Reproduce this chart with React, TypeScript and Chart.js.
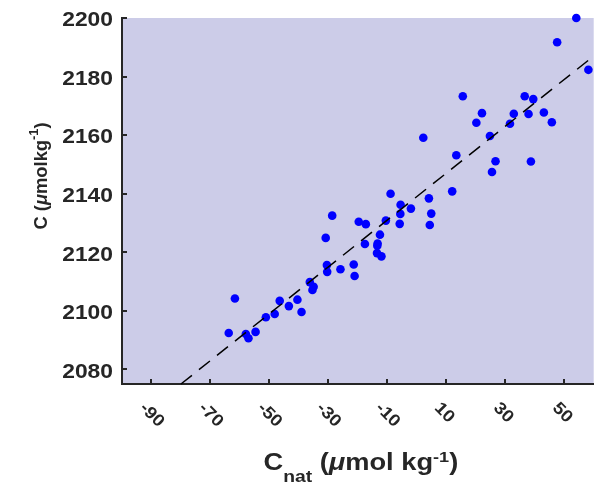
import React, { useEffect, useRef } from "react";
import { Chart, registerables } from "chart.js";

Chart.register(...registerables);

// ---- data ----
const cNat = [
  54.1, 47.6, 58.2, 15.6, 36.6, 39.5, 22.1, 32.9, 37.9, 43.1,
  20.2, 31.6, 45.8, 24.8, 2.2, 13.4, 26.7, 38.7, 25.5, -8.9,
  4.1, 12.0, -5.5, -2.0, -5.6, 4.9, -5.8, 4.4, -28.7, -19.7,
  -17.3, -10.5, -12.5, -30.9, -17.6, -13.3, -13.4, -13.5, -12.0, -30.5,
  -30.4, -25.9, -21.4, -21.1, -36.3, -35.0, -35.4, -46.5, -40.5, -61.7,
  -63.8, -58.0, -57.1, -54.7, -51.2, -48.2, -43.4, -39.1,
];
const cObs = [
  2200.0, 2191.7, 2182.3, 2173.3, 2173.3, 2172.3, 2167.5, 2167.3, 2167.2, 2167.7,
  2164.2, 2163.9, 2164.4, 2159.7, 2159.1, 2153.1, 2151.1, 2151.0, 2147.4, 2140.0,
  2138.4, 2140.8, 2136.2, 2134.9, 2133.1, 2133.2, 2129.7, 2129.3, 2132.5, 2130.4,
  2129.6, 2130.8, 2126.0, 2124.9, 2122.8, 2123.0, 2122.2, 2119.7, 2118.6, 2115.6,
  2113.3, 2114.2, 2115.8, 2111.9, 2109.8, 2108.2, 2107.1, 2103.4, 2103.8, 2104.2,
  2092.4, 2092.1, 2090.6, 2092.8, 2097.8, 2098.9, 2101.6, 2099.6,
];
const fitX = [-80, 60];
const fitY = [2075, 2187];
const xTickValues = [-90, -70, -50, -30, -10, 10, 30, 50];
const yTickValues = [2080, 2100, 2120, 2140, 2160, 2180, 2200];
const xRange = [-100, 60];
const yRange = [2075, 2200];

// ---- text helpers ----
const FAMILY = '"Liberation Sans", Arial, Helvetica, sans-serif';
const INK = "#262626";

type Run = { t: string; size: number; dy?: number; italic?: boolean };

function fontOf(r: Run) {
  return `${r.italic ? "italic " : ""}bold ${r.size}px ${FAMILY}`;
}

function drawRuns(
  ctx: CanvasRenderingContext2D,
  runs: Run[],
  x: number,
  y: number,
  angle: number,
  align: "left" | "center" | "right",
  stretch: number
) {
  const widths = runs.map((r) => {
    ctx.font = fontOf(r);
    return ctx.measureText(r.t).width * stretch;
  });
  const total = widths.reduce((a, b) => a + b, 0);
  let cx = align === "left" ? 0 : align === "center" ? -total / 2 : -total;
  ctx.save();
  ctx.translate(x, y);
  ctx.rotate(angle);
  ctx.textAlign = "left";
  ctx.textBaseline = "alphabetic";
  ctx.fillStyle = INK;
  runs.forEach((r, i) => {
    ctx.font = fontOf(r);
    ctx.save();
    ctx.translate(cx, r.dy || 0);
    ctx.scale(stretch, 1);
    ctx.fillText(r.t, 0, 0);
    ctx.restore();
    cx += widths[i];
  });
  ctx.restore();
}

const xTitleRuns: Run[] = [
  { t: "C", size: 23.3 },
  { t: "nat", size: 16.5, dy: 11.5 },
  { t: " (", size: 23.3 },
  { t: "\u03BC", size: 23.3, italic: true },
  { t: "mol kg", size: 23.3 },
  { t: "-1", size: 15.5, dy: -8.5 },
  { t: ")", size: 23.3 },
];
const yTitleRuns: Run[] = [
  { t: "C (", size: 18 },
  { t: "\u03BC", size: 18, italic: true },
  { t: "molkg", size: 18 },
  { t: "-1", size: 12.5, dy: -9.5 },
  { t: ")", size: 18 },
];

const decorPlugin = {
  id: "decor",
  beforeDraw(chart: any) {
    const { ctx, chartArea: a } = chart;
    ctx.save();
    ctx.fillStyle = "rgb(204,204,232)";
    ctx.fillRect(a.left, a.top, a.right - a.left, a.bottom - a.top);
    ctx.restore();
  },
  beforeDatasetsDraw(chart: any) {
    const { ctx, chartArea: a, scales } = chart;
    ctx.save();
    ctx.strokeStyle = INK;
    ctx.lineWidth = 2;
    ctx.beginPath();
    xTickValues.forEach((v) => {
      const px = Math.round(scales.x.getPixelForValue(v));
      ctx.moveTo(px, a.bottom);
      ctx.lineTo(px, a.bottom - 5);
    });
    yTickValues.forEach((v) => {
      const py = Math.round(scales.y.getPixelForValue(v));
      ctx.moveTo(a.left, py);
      ctx.lineTo(a.left + 5, py);
    });
    ctx.stroke();
    ctx.restore();
  },
  afterDraw(chart: any) {
    const { ctx, chartArea: a, scales } = chart;
    // y tick labels
    yTickValues.forEach((v) => {
      const py = scales.y.getPixelForValue(v);
      drawRuns(ctx, [{ t: String(v), size: 19.5 }], a.left - 9, py + 8.3, 0, "right", 1.17);
    });
    // x tick labels, rotated
    xTickValues.forEach((v) => {
      const px = scales.x.getPixelForValue(v);
      drawRuns(ctx, [{ t: String(v), size: 17, dy: 6 }], px - 8.3, a.bottom + 20.6, Math.PI / 4, "left", 1.1);
    });
    // axis titles
    drawRuns(ctx, xTitleRuns, 263.5, 470, 0, "left", 1.17);
    drawRuns(ctx, yTitleRuns, 47, 176, -Math.PI / 2, "center", 1.02);
  },
};

export default function App() {
  const ref = useRef<HTMLCanvasElement | null>(null);
  useEffect(() => {
    if (!ref.current) return;
    const points = cNat.map((x, i) => ({ x, y: cObs[i] }));
    const fit = fitX.map((x, i) => ({ x, y: fitY[i] }));
    const chart = new Chart(ref.current, {
      type: "scatter",
      data: {
        datasets: [
          {
            type: "line",
            data: fit,
            borderColor: "#000000",
            borderWidth: 1.5,
            borderDash: [14, 9],
            pointRadius: 0,
            fill: false,
            clip: false,
            order: 0,
          } as any,
          {
            type: "scatter",
            data: points,
            backgroundColor: "#0000FF",
            borderWidth: 0,
            pointRadius: 4.3,
            pointHoverRadius: 4.3,
            clip: false,
            order: 1,
          } as any,
        ],
      },
      options: {
        animation: false,
        responsive: false,
        events: [],
        layout: { padding: { top: 18, right: 4, left: 0, bottom: 0 } },
        plugins: { legend: { display: false }, tooltip: { enabled: false } },
        scales: {
          x: {
            type: "linear",
            min: xRange[0],
            max: xRange[1],
            afterBuildTicks: (s: any) => {
              s.ticks = xTickValues.map((v) => ({ value: v }));
            },
            afterFit: (s: any) => {
              s.height = 99;
            },
            ticks: { display: false },
            grid: { display: true, drawOnChartArea: false, drawTicks: false },
            border: { display: true, color: INK, width: 2 },
            title: { display: false },
          },
          y: {
            type: "linear",
            min: yRange[0],
            max: yRange[1],
            afterBuildTicks: (s: any) => {
              s.ticks = yTickValues.map((v) => ({ value: v }));
            },
            afterFit: (s: any) => {
              s.width = 122;
            },
            ticks: { display: false },
            grid: { display: true, drawOnChartArea: false, drawTicks: false },
            border: { display: true, color: INK, width: 2 },
            title: { display: false },
          },
        },
      } as any,
      plugins: [decorPlugin],
    });
    return () => chart.destroy();
  }, []);
  return (
    <div style={{ position: "absolute", left: 0, top: 0, width: 598, height: 483 }}>
      <canvas ref={ref} width={598} height={483} style={{ display: "block" }} />
    </div>
  );
}
